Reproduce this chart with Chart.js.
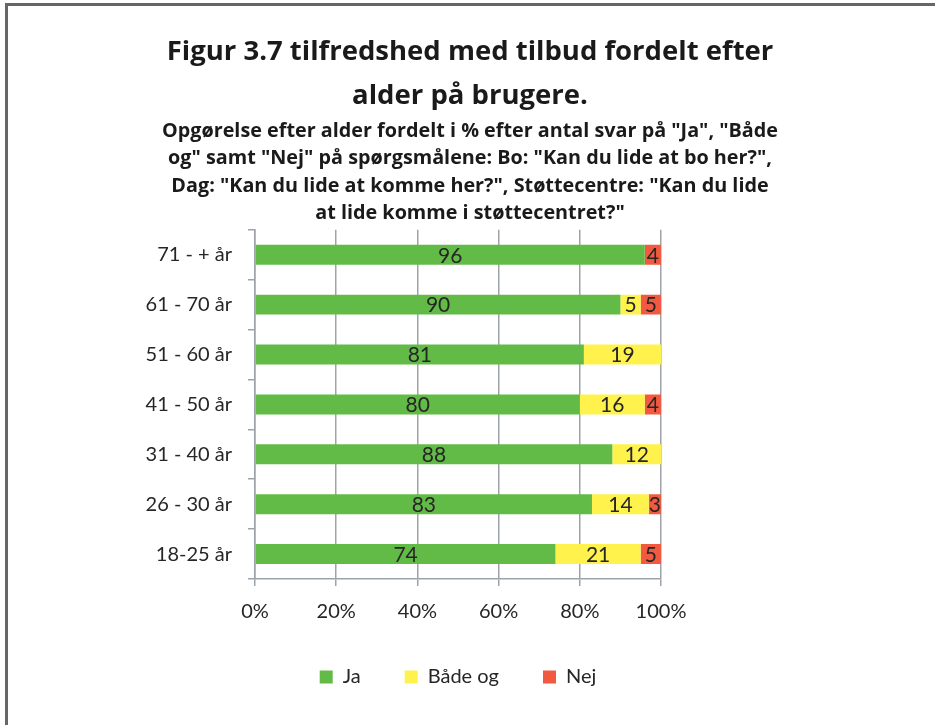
<!DOCTYPE html>
<html>
<head>
<meta charset="utf-8">
<script src="https://cdn.jsdelivr.net/npm/chart.js@4.4.1/dist/chart.umd.min.js"></script>
<style>
    html, body { margin: 0; padding: 0; background: #fff; }
    #wrap { position: relative; width: 935px; height: 725px; overflow: hidden; }
    #frame {
        position: absolute; left: 5px; top: 3px; right: -10px; bottom: -10px;
        border-left: 3px solid #666; border-top: 3px solid #666;
    }
    canvas { position: absolute; left: 0; top: 0; }
</style>
</head>
<body>
<div id="wrap">
    <div id="frame"></div>
    <canvas id="chart" width="935" height="725"></canvas>
</div>
<script>
const categories = ['71 - + år', '61 - 70 år', '51 - 60 år', '41 - 50 år', '31 - 40 år', '26 - 30 år', '18-25 år'];
const jaValues = [96, 90, 81, 80, 88, 83, 74];
const baadeOgValues = [0, 5, 19, 16, 12, 14, 21];
const nejValues = [4, 5, 0, 4, 0, 3, 5];
const xTickValues = [0, 20, 40, 60, 80, 100];

const titleLines = [
    'Figur 3.7 tilfredshed med tilbud fordelt efter',
    'alder på brugere.'
];
const subtitleLines = [
    'Opgørelse efter alder fordelt i % efter antal svar på "Ja", "Både',
    'og" samt "Nej" på spørgsmålene: Bo: "Kan du lide at bo her?",',
    'Dag: "Kan du lide at komme her?", Støttecentre: "Kan du lide',
    'at lide komme i støttecentret?"'
];

const FONT = 'Lato, "Open Sans", sans-serif';
const TITLE_FONT = '"Open Sans", Lato, sans-serif';
const TEXT_COLOR = '#262626';
const GRID_COLOR = '#9ea3a9';

// écrit la valeur au milieu de chaque segment (on saute les zéros)
const segmentLabels = {
    id: 'segmentLabels',
    afterDatasetsDraw(chart) {
        const ctx = chart.ctx;
        ctx.save();
        ctx.font = '21px ' + FONT;
        ctx.fillStyle = TEXT_COLOR;
        ctx.textAlign = 'center';
        ctx.textBaseline = 'middle';
        chart.data.datasets.forEach((ds, i) => {
            const meta = chart.getDatasetMeta(i);
            meta.data.forEach((bar, j) => {
                const v = ds.data[j];
                if (!v) return;
                const { x, base, y } = bar.getProps(['x', 'base', 'y'], true);
                ctx.fillText(String(v), (x + base) / 2, y + 1);
            });
        });
        ctx.restore();
    }
};

const ctx = document.getElementById('chart').getContext('2d');

new Chart(ctx, {
    type: 'bar',
    data: {
        labels: categories,
        datasets: [
            { label: 'Ja', data: jaValues, backgroundColor: '#62bb46', xAxisID: 'x', yAxisID: 'y' },
            { label: 'Både og', data: baadeOgValues, backgroundColor: '#fff24c', xAxisID: 'x', yAxisID: 'y' },
            { label: 'Nej', data: nejValues, backgroundColor: '#f15a40', xAxisID: 'x', yAxisID: 'y' }
        ]
    },
    options: {
        indexAxis: 'y',
        responsive: false,
        animation: false,
        layout: { padding: { left: 0, right: -5, top: 0, bottom: 28 } },
        datasets: {
            bar: { categoryPercentage: 1, barPercentage: 0.4, borderWidth: 0 }
        },
        plugins: {
            tooltip: { enabled: false },
            title: {
                display: true,
                text: titleLines,
                color: '#1a1a1a',
                font: { family: TITLE_FONT, size: 27.5, weight: 'bold', lineHeight: '44px' },
                padding: { top: 30, bottom: 0 }
            },
            subtitle: {
                display: true,
                text: subtitleLines,
                color: '#1a1a1a',
                font: { family: TITLE_FONT, size: 19.8, weight: 'bold', lineHeight: '27.2px' },
                padding: { top: 0, bottom: 3 }
            },
            legend: {
                display: true,
                position: 'bottom',
                fullSize: false,
                labels: {
                    boxWidth: 13,
                    boxHeight: 13,
                    padding: 44,
                    color: TEXT_COLOR,
                    font: { family: FONT, size: 20 }
                }
            }
        },
        scales: {
            x: {
                stacked: true,
                min: 0,
                max: 100,
                afterBuildTicks: (scale) => {
                    scale.ticks = xTickValues.map(v => ({ value: v }));
                },
                afterFit: (scale) => { scale.height = 44; },
                grid: { color: GRID_COLOR, lineWidth: 1.5, tickLength: 7, drawTicks: true },
                border: { color: GRID_COLOR, width: 1.5 },
                ticks: {
                    color: TEXT_COLOR,
                    padding: 14,
                    maxRotation: 0,
                    font: { family: FONT, size: 20 },
                    callback: (v) => v + '%'
                }
            },
            y: {
                stacked: true,
                afterFit: (scale) => { scale.width = 255; },
                grid: { color: GRID_COLOR, lineWidth: 1.5, tickLength: 7, drawOnChartArea: false, offset: true },
                border: { color: GRID_COLOR, width: 1.5 },
                ticks: {
                    color: TEXT_COLOR,
                    padding: 16,
                    font: { family: FONT, size: 20 }
                }
            },
            // axe vide à droite, sert seulement à recentrer le titre
            rightPad: {
                type: 'linear',
                position: 'right',
                display: true,
                grid: { display: false },
                border: { display: false },
                ticks: { display: false },
                afterFit: (scale) => { scale.width = 279; }
            }
        }
    },
    plugins: [segmentLabels]
});
</script>
</body>
</html>
